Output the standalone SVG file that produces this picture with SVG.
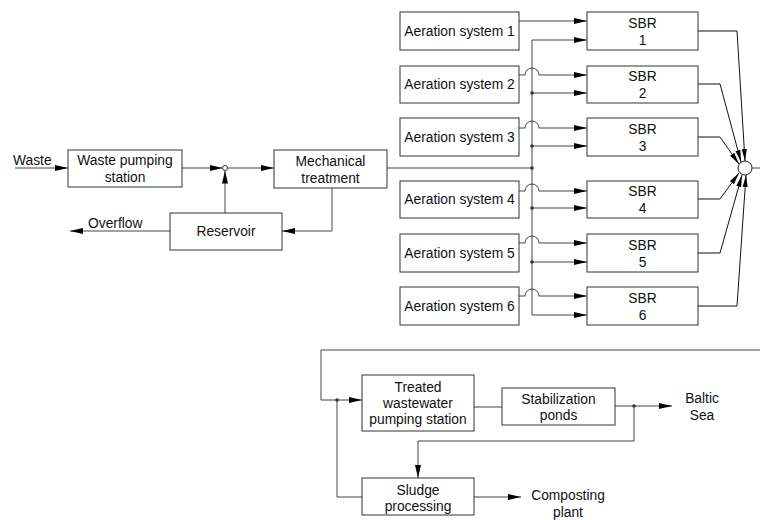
<svg xmlns="http://www.w3.org/2000/svg" width="760" height="520" viewBox="0 0 760 520">
<defs>
<marker id="arr" markerUnits="userSpaceOnUse" markerWidth="13" markerHeight="6" refX="13" refY="3" orient="auto">
<path d="M0,0 L13,3 L0,6 Z" fill="#000"/>
</marker>
<marker id="arrs" markerUnits="userSpaceOnUse" markerWidth="12" markerHeight="6" refX="12" refY="3" orient="auto">
<path d="M0,0.5 L12,3 L0,5.5 Z" fill="#000"/>
</marker>
<style>
.box{fill:#fff;stroke:#333;stroke-width:1}
.ln{fill:none;stroke:#444;stroke-width:1}
.la{fill:none;stroke:#444;stroke-width:1;marker-end:url(#arr)}
.lb{fill:none;stroke:#111;stroke-width:1;marker-end:url(#arrs)}
.dot{fill:#333}
text{font-family:"Liberation Sans",Arial,sans-serif;font-size:13.8px;fill:#111;text-anchor:middle}
.l{text-anchor:start}
</style>
</defs>

<g id="connectors">
<!-- input side -->
<path class="la" d="M15,168 H68"/>
<path class="la" d="M182,168 H222.5"/>
<path class="la" d="M225,213 V170.5"/>
<path class="la" d="M228,168 H274"/>
<path class="la" d="M332,188 V231 H282"/>
<path class="la" d="M170,231 H70"/>
<path class="ln" d="M387,168 H532"/>
<!-- bus -->
<path class="ln" d="M532,40 V315"/>
<!-- aeration outputs -->
<path class="la" d="M519,21 H587"/>
<path class="la" d="M519,75 H525 A7,7 0 0 1 539,75 H587"/>
<path class="la" d="M519,128 H525 A7,7 0 0 1 539,128 H587"/>
<path class="la" d="M519,191 H525 A7,7 0 0 1 539,191 H587"/>
<path class="la" d="M519,243 H525 A7,7 0 0 1 539,243 H587"/>
<path class="la" d="M519,296 H525 A7,7 0 0 1 539,296 H587"/>
<!-- bus taps -->
<path class="la" d="M532,40 H587"/>
<path class="la" d="M532,93 H587"/>
<path class="la" d="M532,146 H587"/>
<path class="la" d="M532,208 H587"/>
<path class="la" d="M532,262 H587"/>
<path class="la" d="M532,315 H587"/>
<circle class="dot" cx="532" cy="93" r="1.8"/>
<circle class="dot" cx="532" cy="146" r="1.8"/>
<circle class="dot" cx="532" cy="168" r="1.8"/>
<circle class="dot" cx="532" cy="208" r="1.8"/>
<circle class="dot" cx="532" cy="262" r="1.8"/>
<!-- SBR outputs -->
<path class="lb" d="M698,31 H737 L745,161"/>
<path class="lb" d="M698,84 H720 L741,162"/>
<path class="lb" d="M698,137 H720 L739,164"/>
<path class="lb" d="M698,199 H720 L739,173"/>
<path class="lb" d="M698,253 H720 L742,175"/>
<path class="lb" d="M698,306 H737 L746,175"/>
<path class="ln" d="M752,168 H760"/>
<!-- bottom -->
<path class="ln" d="M760,350 H321 V400 H337"/>
<path class="la" d="M337,400 H362"/>
<path class="ln" d="M337,400 V497 H362"/>
<circle class="dot" cx="337" cy="400" r="1.8"/>
<path class="ln" d="M474,407 H502"/>
<path class="la" d="M615,406 H672"/>
<circle class="dot" cx="634" cy="406" r="1.8"/>
<path class="la" d="M634,406 V441 H418 V478"/>
<path class="la" d="M474,497 H521"/>
</g>

<g id="junction"><circle cx="225" cy="168" r="2.5" fill="#fff" stroke="#333" stroke-width="1"/></g>
<g id="sum"><circle cx="745" cy="168" r="7" fill="#fff" stroke="#222" stroke-width="1"/></g>

<g id="waste-label"><text class="l" x="13" y="165">Waste</text></g>
<g id="overflow-label"><text class="l" x="88" y="228">Overflow</text></g>

<g id="pumping"><rect class="box" x="68" y="150" width="114" height="37"/><text x="125" y="165">Waste pumping</text><text x="125" y="182">station</text></g>
<g id="mechanical"><rect class="box" x="274" y="150" width="113" height="38"/><text x="330.5" y="166">Mechanical</text><text x="330.5" y="183">treatment</text></g>
<g id="reservoir"><rect class="box" x="170" y="213" width="112" height="37"/><text x="226" y="236">Reservoir</text></g>

<g id="aer1"><rect class="box" x="400" y="12" width="119" height="38"/><text x="459.5" y="36">Aeration system 1</text></g>
<g id="aer2"><rect class="box" x="400" y="66" width="119" height="37"/><text x="459.5" y="89">Aeration system 2</text></g>
<g id="aer3"><rect class="box" x="400" y="118" width="119" height="38"/><text x="459.5" y="142">Aeration system 3</text></g>
<g id="aer4"><rect class="box" x="400" y="181" width="119" height="37"/><text x="459.5" y="204">Aeration system 4</text></g>
<g id="aer5"><rect class="box" x="400" y="234" width="119" height="38"/><text x="459.5" y="258">Aeration system 5</text></g>
<g id="aer6"><rect class="box" x="400" y="287" width="119" height="38"/><text x="459.5" y="311">Aeration system 6</text></g>

<g id="sbr1"><rect class="box" x="587" y="12" width="111" height="38"/><text x="642.5" y="28">SBR</text><text x="642.5" y="45">1</text></g>
<g id="sbr2"><rect class="box" x="587" y="66" width="111" height="37"/><text x="642.5" y="81">SBR</text><text x="642.5" y="98">2</text></g>
<g id="sbr3"><rect class="box" x="587" y="118" width="111" height="38"/><text x="642.5" y="134">SBR</text><text x="642.5" y="151">3</text></g>
<g id="sbr4"><rect class="box" x="587" y="181" width="111" height="37"/><text x="642.5" y="196">SBR</text><text x="642.5" y="213">4</text></g>
<g id="sbr5"><rect class="box" x="587" y="234" width="111" height="38"/><text x="642.5" y="250">SBR</text><text x="642.5" y="267">5</text></g>
<g id="sbr6"><rect class="box" x="587" y="287" width="111" height="38"/><text x="642.5" y="303">SBR</text><text x="642.5" y="320">6</text></g>

<g id="treated"><rect class="box" x="362" y="375" width="112" height="56"/><text x="418" y="392">Treated</text><text x="418" y="408">wastewater</text><text x="418" y="424">pumping station</text></g>
<g id="ponds"><rect class="box" x="502" y="388" width="113" height="37"/><text x="558.5" y="404">Stabilization</text><text x="558.5" y="420">ponds</text></g>
<g id="sludge"><rect class="box" x="362" y="478" width="112" height="37"/><text x="418" y="495">Sludge</text><text x="418" y="511">processing</text></g>
<g id="baltic"><text x="702" y="403">Baltic</text><text x="702" y="420">Sea</text></g>
<g id="compost"><text x="568" y="500">Composting</text><text x="568" y="517">plant</text></g>
</svg>
